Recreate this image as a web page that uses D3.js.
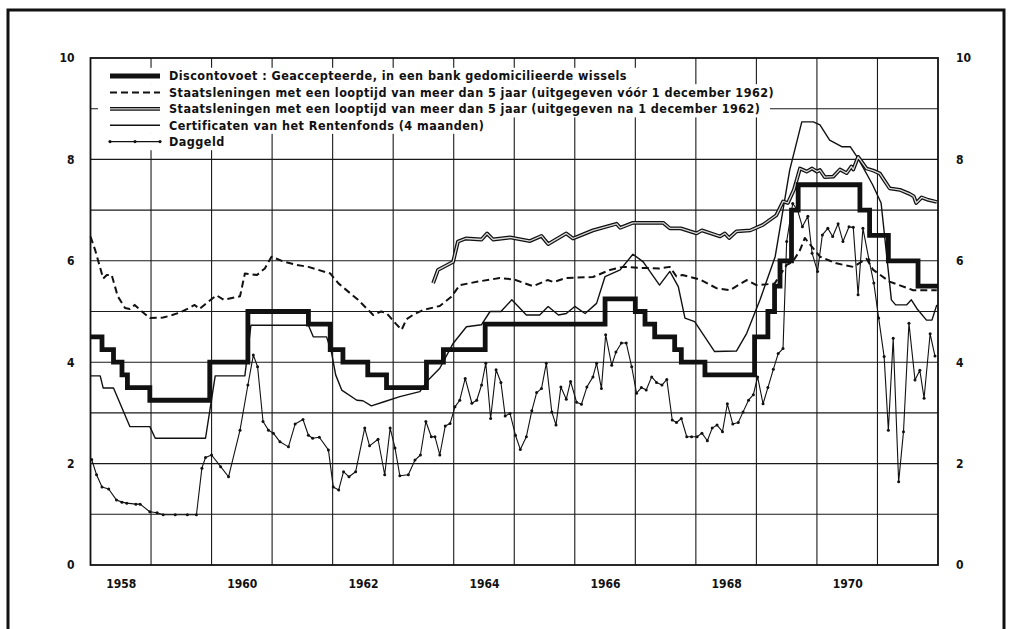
<!DOCTYPE html>
<html>
<head>
<meta charset="utf-8">
<script src="https://cdn.jsdelivr.net/npm/d3@7"></script>
<style>
  body { margin: 0; background: #fff; }
  svg { display: block; }
  text { font-family: "DejaVu Sans Condensed", "DejaVu Sans", sans-serif; font-weight: bold; fill: #111; }
</style>
</head>
<body>
<svg width="1014" height="629"></svg>
<script>
// jaren als decimaal getal, rentes in procenten
var discountYears = [1958.0, 1958.19, 1958.38, 1958.52, 1958.61, 1958.98, 1959.97, 1960.6, 1961.6, 1961.96,
  1962.17, 1962.58, 1962.89, 1963.55, 1963.83, 1964.52, 1966.5, 1967.0, 1967.16, 1967.32, 1967.65, 1967.76,
  1968.15, 1968.97, 1969.19, 1969.3, 1969.39, 1969.58, 1969.69, 1970.71, 1970.87, 1971.18, 1971.67];
var discountRates = [4.5, 4.25, 4.0, 3.75, 3.5, 3.25, 4.0, 5.0, 4.75, 4.25,
  4.0, 3.75, 3.5, 4.0, 4.25, 4.75, 5.25, 5.0, 4.75, 4.5, 4.25,
  4.0, 3.75, 4.5, 5.0, 5.5, 6.0, 7.0, 7.5, 7.0, 6.5, 6.0, 5.5];

var oldBondYears = [1958.0, 1958.08, 1958.21, 1958.27, 1958.35, 1958.45, 1958.57, 1958.65, 1958.73, 1958.85,
  1958.98, 1959.2, 1959.35, 1959.48, 1959.6, 1959.72, 1959.8, 1959.9, 1960.08, 1960.2, 1960.47, 1960.55,
  1960.75, 1960.88, 1960.99, 1961.2, 1961.4, 1961.6, 1961.96, 1962.1, 1962.42, 1962.67, 1962.8, 1962.89,
  1963.05, 1963.14, 1963.22, 1963.35, 1963.5, 1963.77, 1963.96, 1964.1, 1964.4, 1964.76, 1965.0, 1965.31,
  1965.55, 1965.65, 1965.85, 1966.3, 1966.58, 1966.8, 1967.1, 1967.4, 1967.57, 1967.68, 1967.78, 1968.07,
  1968.34, 1968.56, 1968.84, 1969.0, 1969.3, 1969.5, 1969.6, 1969.72, 1969.8, 1970.05, 1970.32, 1970.6,
  1970.82, 1970.93, 1971.2, 1971.59, 1971.98];
var oldBondRates = [6.48, 6.2, 5.65, 5.72, 5.72, 5.3, 5.07, 5.05, 5.13, 5.0,
  4.87, 4.88, 4.93, 4.98, 5.05, 5.13, 5.05, 5.15, 5.32, 5.23, 5.3, 5.75,
  5.72, 5.85, 6.08, 5.98, 5.92, 5.88, 5.75, 5.55, 5.23, 4.93, 5.0, 4.97,
  4.75, 4.64, 4.85, 4.95, 5.03, 5.11, 5.29, 5.52, 5.59, 5.66, 5.63, 5.5,
  5.62, 5.58, 5.66, 5.68, 5.82, 5.88, 5.86, 5.85, 5.88, 5.69, 5.72, 5.63,
  5.46, 5.42, 5.62, 5.52, 5.55, 5.92, 5.98, 6.21, 6.45, 6.08, 5.95, 5.88,
  6.04, 5.82, 5.59, 5.42, 5.42];

var newBondYears = [1963.66, 1963.74, 1963.99, 1964.07, 1964.2, 1964.46, 1964.55, 1964.65, 1964.93, 1965.26,
  1965.45, 1965.56, 1965.86, 1965.97, 1966.3, 1966.69, 1966.75, 1966.96, 1967.46, 1967.57, 1967.75, 1968.01,
  1968.1, 1968.4, 1968.48, 1968.55, 1968.67, 1968.9, 1969.11, 1969.33, 1969.44, 1969.52, 1969.62, 1969.72,
  1969.83, 1969.92, 1970.0, 1970.05, 1970.13, 1970.27, 1970.38, 1970.49, 1970.57, 1970.6, 1970.68, 1970.82,
  1970.93, 1971.04, 1971.2, 1971.37, 1971.53, 1971.6, 1971.64, 1971.73, 1971.84, 1971.98];
var newBondRates = [5.56, 5.82, 5.98, 6.38, 6.44, 6.42, 6.54, 6.42, 6.46, 6.39,
  6.49, 6.33, 6.54, 6.44, 6.6, 6.73, 6.65, 6.75, 6.75, 6.64, 6.64, 6.54,
  6.6, 6.48, 6.54, 6.45, 6.58, 6.6, 6.71, 6.9, 7.17, 7.14, 7.4, 7.82,
  7.76, 7.82, 7.76, 7.79, 7.65, 7.66, 7.8, 7.73, 7.86, 7.8, 8.05, 7.82,
  7.78, 7.72, 7.43, 7.4, 7.32, 7.27, 7.14, 7.25, 7.2, 7.16];

var certYears = [1958.0, 1958.16, 1958.21, 1958.38, 1958.65, 1958.98, 1959.07, 1959.9, 1960.06, 1960.55,
  1960.65, 1961.6, 1961.68, 1961.9, 1961.98, 1962.05, 1962.15, 1962.4, 1962.5, 1962.64, 1962.85, 1963.11,
  1963.44, 1963.58, 1963.77, 1963.99, 1964.21, 1964.46, 1964.6, 1964.78, 1964.96, 1965.2, 1965.42, 1965.56,
  1965.73, 1965.86, 1966.0, 1966.17, 1966.36, 1966.5, 1966.75, 1966.96, 1967.13, 1967.4, 1967.57, 1967.71,
  1967.82, 1967.98, 1968.31, 1968.67, 1968.84, 1969.06, 1969.31, 1969.55, 1969.75, 1969.94, 1970.05, 1970.21,
  1970.41, 1970.55, 1970.68, 1970.92, 1971.06, 1971.23, 1971.3, 1971.48, 1971.56, 1971.65, 1971.81, 1971.9,
  1971.98];
var certRates = [3.73, 3.73, 3.49, 3.49, 2.73, 2.73, 2.5, 2.5, 3.73, 3.73,
  4.73, 4.73, 4.5, 4.5, 4.2, 3.75, 3.45, 3.25, 3.24, 3.14, 3.22, 3.32,
  3.42, 3.65, 3.88, 4.37, 4.7, 4.74, 5.0, 5.0, 5.23, 4.93, 4.93, 5.1,
  4.93, 4.96, 5.1, 4.96, 5.16, 5.69, 5.82, 6.13, 5.98, 5.52, 5.79, 5.49,
  4.87, 4.8, 4.21, 4.22, 4.57, 5.23, 6.08, 7.79, 8.74, 8.74, 8.68, 8.38,
  8.25, 8.25, 8.02, 7.5, 7.14, 5.23, 5.13, 5.13, 5.23, 5.06, 4.83, 4.83,
  5.13];

var callYears = [1958.02, 1958.1, 1958.19, 1958.3, 1958.43, 1958.52, 1958.6, 1958.75, 1958.82, 1958.98,
  1959.1, 1959.2, 1959.4, 1959.6, 1959.75, 1959.84, 1959.9, 1960.0, 1960.15, 1960.28, 1960.47, 1960.6,
  1960.69, 1960.76, 1960.85, 1960.94, 1961.02, 1961.13, 1961.27, 1961.38, 1961.51, 1961.6, 1961.67, 1961.78,
  1961.93, 1962.01, 1962.1, 1962.18, 1962.27, 1962.38, 1962.53, 1962.61, 1962.75, 1962.86, 1962.95, 1963.03,
  1963.11, 1963.25, 1963.36, 1963.45, 1963.54, 1963.63, 1963.69, 1963.77, 1963.86, 1963.94, 1964.02, 1964.1,
  1964.19, 1964.3, 1964.38, 1964.46, 1964.53, 1964.61, 1964.7, 1964.78, 1964.85, 1964.93, 1965.02, 1965.1,
  1965.2, 1965.29, 1965.37, 1965.45, 1965.53, 1965.62, 1965.69, 1965.77, 1965.86, 1965.93, 1966.03, 1966.11,
  1966.2, 1966.3, 1966.36, 1966.44, 1966.51, 1966.61, 1966.68, 1966.77, 1966.85, 1966.94, 1967.02, 1967.1,
  1967.18, 1967.27, 1967.35, 1967.44, 1967.52, 1967.61, 1967.68, 1967.76, 1967.85, 1967.93, 1968.02, 1968.1,
  1968.19, 1968.27, 1968.35, 1968.44, 1968.52, 1968.61, 1968.7, 1968.78, 1968.87, 1968.95, 1969.02, 1969.11,
  1969.19, 1969.28, 1969.36, 1969.44, 1969.5, 1969.6, 1969.68, 1969.76, 1969.85, 1969.92, 1970.01, 1970.09,
  1970.18, 1970.26, 1970.35, 1970.43, 1970.53, 1970.6, 1970.68, 1970.76, 1970.86, 1970.94, 1971.02, 1971.11,
  1971.18, 1971.26, 1971.35, 1971.43, 1971.52, 1971.62, 1971.7, 1971.77, 1971.87, 1971.95];
var callRates = [2.08, 1.78, 1.54, 1.5, 1.28, 1.24, 1.22, 1.2, 1.2, 1.05,
  1.03, 0.99, 0.99, 0.99, 0.99, 1.91, 2.12, 2.17, 1.94, 1.74, 2.66, 3.55,
  4.14, 3.91, 2.83, 2.66, 2.6, 2.43, 2.33, 2.78, 2.87, 2.56, 2.5, 2.52,
  2.27, 1.54, 1.48, 1.84, 1.74, 1.84, 2.7, 2.35, 2.48, 1.78, 2.7, 2.31,
  1.76, 1.78, 2.07, 2.17, 2.83, 2.53, 2.53, 2.17, 2.74, 2.79, 3.12, 3.25,
  3.68, 3.19, 3.25, 3.55, 3.98, 2.89, 3.85, 3.6, 2.94, 2.99, 2.56, 2.28,
  2.53, 3.04, 3.4, 3.48, 3.98, 3.02, 2.76, 3.51, 3.27, 3.62, 3.21, 3.17,
  3.51, 3.71, 3.98, 3.48, 4.54, 3.94, 4.2, 4.38, 4.38, 3.91, 3.39, 3.5,
  3.45, 3.71, 3.6, 3.55, 3.66, 2.86, 2.81, 2.89, 2.53, 2.53, 2.53, 2.6,
  2.45, 2.7, 2.76, 2.63, 3.18, 2.78, 2.81, 3.02, 3.25, 3.36, 3.71, 3.18,
  3.5, 3.86, 4.17, 4.27, 6.38, 7.13, 7.0, 6.67, 6.88, 6.15, 5.79, 6.51,
  6.64, 6.48, 6.73, 6.38, 6.67, 6.66, 5.33, 6.64, 6.02, 5.56, 4.87, 4.11,
  2.66, 4.47, 1.64, 2.63, 4.77, 3.65, 3.84, 3.29, 4.56, 4.12];

var yearLabels = [1958, 1960, 1962, 1964, 1966, 1968, 1970];
var rateTicks = [0, 2, 4, 6, 8, 10];

var legendLabels = [
  "Discontovoet : Geaccepteerde, in een bank gedomicilieerde wissels",
  "Staatsleningen met een looptijd van meer dan 5 jaar (uitgegeven vóór 1 december 1962)",
  "Staatsleningen met een looptijd van meer dan 5 jaar (uitgegeven na 1 december 1962)",
  "Certificaten van het Rentenfonds (4 maanden)",
  "Daggeld"
];

function zip(a, b) { return a.map(function(v, i) { return [v, b[i]]; }); }

var svg = d3.select("svg");
svg.append("rect").attr("width", 1014).attr("height", 629).attr("fill", "#fff");

var pLeft = 90.5, pRight = 938, pTop = 58, pBottom = 565;
var x = d3.scaleLinear().domain([1958, 1972]).range([pLeft, pRight]);
var y = d3.scaleLinear().domain([0, 10]).range([pBottom, pTop]);

// rasterlijnen
var grid = svg.append("g").attr("stroke", "#1a1a1a").attr("stroke-width", 1.1);
grid.selectAll(".v").data(d3.range(1959, 1972)).enter().append("line")
  .attr("x1", function(d) { return x(d); }).attr("x2", function(d) { return x(d); })
  .attr("y1", pTop).attr("y2", pBottom);
grid.selectAll(".h").data(d3.range(1, 10)).enter().append("line")
  .attr("x1", pLeft).attr("x2", pRight)
  .attr("y1", function(d) { return y(d); }).attr("y2", function(d) { return y(d); });

// kader van de grafiek
svg.append("rect").attr("x", pLeft).attr("y", pTop).attr("width", pRight - pLeft).attr("height", pBottom - pTop)
  .attr("fill", "none").attr("stroke", "#111").attr("stroke-width", 1.8);

// buitenrand
svg.append("path").attr("d", "M8,629 V10 H1004 V629").attr("fill", "none")
  .attr("stroke", "#111").attr("stroke-width", 3);

// assen
var yl = svg.append("g").attr("transform", "translate(" + pLeft + ",0)")
  .call(d3.axisLeft(y).tickValues(rateTicks).tickSize(0).tickPadding(16).tickFormat(d3.format("d")));
var yr = svg.append("g").attr("transform", "translate(" + pRight + ",0)")
  .call(d3.axisRight(y).tickValues(rateTicks).tickSize(0).tickPadding(18).tickFormat(d3.format("d")));
var xb = svg.append("g").attr("transform", "translate(0," + pBottom + ")")
  .call(d3.axisBottom(x).tickValues(yearLabels.map(function(d) { return d + 0.5; }))
    .tickSize(0).tickPadding(14).tickFormat(function(d) { return Math.floor(d); }));
[yl, yr, xb].forEach(function(g) {
  g.select(".domain").remove();
  g.selectAll("text").attr("font-size", 12).attr("font-family", null).attr("fill", "#111");
});

// legenda-achtergrond
var legY0 = 76, legStep = 16.4;
var legendWidths = [540, 684, 672, 386, 136];
svg.append("g").selectAll("rect").data(legendWidths).enter().append("rect")
  .attr("x", 98).attr("y", function(d, i) { return legY0 + i * legStep - legStep / 2; })
  .attr("width", function(d) { return d; }).attr("height", legStep + 0.4).attr("fill", "#fff");

var line = d3.line().x(function(d) { return x(d[0]); }).y(function(d) { return y(d[1]); });
var stepLine = d3.line().curve(d3.curveStepAfter).x(function(d) { return x(d[0]); }).y(function(d) { return y(d[1]); });

var discount = zip(discountYears, discountRates);
discount.push([1972, discountRates[discountRates.length - 1]]);
var oldBond = zip(oldBondYears, oldBondRates);
var newBond = zip(newBondYears, newBondRates);
var cert = zip(certYears, certRates);
var call = zip(callYears, callRates);

var plot = svg.append("g").attr("fill", "none").attr("stroke-linejoin", "round");

plot.append("path").attr("d", line(call)).attr("stroke", "#111").attr("stroke-width", 1.1);
plot.selectAll("circle").data(call).enter().append("circle")
  .attr("cx", function(d) { return x(d[0]); }).attr("cy", function(d) { return y(d[1]); })
  .attr("r", 1.5).attr("fill", "#111");

plot.append("path").attr("d", line(cert)).attr("stroke", "#111").attr("stroke-width", 1.4);
plot.append("path").attr("d", line(oldBond)).attr("stroke", "#111").attr("stroke-width", 2)
  .attr("stroke-dasharray", "7,4");
plot.append("path").attr("d", line(newBond)).attr("stroke", "#111").attr("stroke-width", 3.8);
plot.append("path").attr("d", line(newBond)).attr("stroke", "#d8d8d8").attr("stroke-width", 1.3);
plot.append("path").attr("d", stepLine(discount)).attr("stroke", "#111").attr("stroke-width", 4.8)
  .attr("stroke-linejoin", "miter");

// legenda
var leg = svg.append("g");
legendLabels.forEach(function(t, i) {
  var ly = legY0 + i * legStep;
  var g = leg.append("g").attr("fill", "none").attr("stroke", "#111");
  if (i === 0) g.append("line").attr("x1", 110).attr("x2", 160).attr("y1", ly).attr("y2", ly).attr("stroke-width", 4.8);
  if (i === 1) g.append("line").attr("x1", 110).attr("x2", 160).attr("y1", ly).attr("y2", ly).attr("stroke-width", 2).attr("stroke-dasharray", "7,4");
  if (i === 2) {
    g.append("line").attr("x1", 110).attr("x2", 160).attr("y1", ly).attr("y2", ly).attr("stroke-width", 3.8);
    g.append("line").attr("x1", 110).attr("x2", 160).attr("y1", ly).attr("y2", ly).attr("stroke-width", 1.3).attr("stroke", "#d8d8d8");
  }
  if (i === 3) g.append("line").attr("x1", 110).attr("x2", 160).attr("y1", ly).attr("y2", ly).attr("stroke-width", 1.4);
  if (i === 4) {
    g.append("line").attr("x1", 110).attr("x2", 160).attr("y1", ly).attr("y2", ly).attr("stroke-width", 1.2);
    [110, 135, 160].forEach(function(cx) {
      g.append("circle").attr("cx", cx).attr("cy", ly).attr("r", 1.6).attr("fill", "#111").attr("stroke", "none");
    });
  }
  leg.append("text").attr("x", 169).attr("y", ly).attr("dy", "0.35em")
    .attr("font-size", 12.5).attr("letter-spacing", 0.45).text(t);
});
</script>
</body>
</html>
